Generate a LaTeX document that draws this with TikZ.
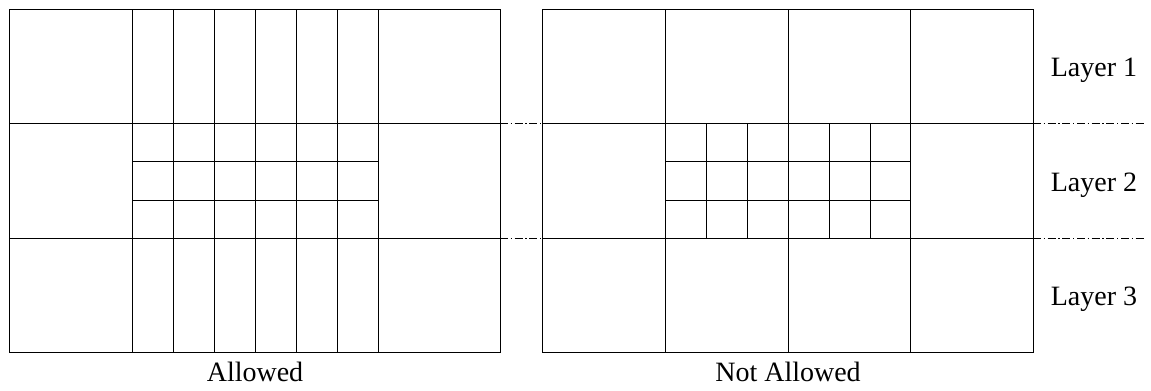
\documentclass[tikz,border=0pt]{standalone}
\usepackage{fontspec}
\setmainfont{Liberation Serif}
\begin{document}
\begin{tikzpicture}[x=0.75pt,y=-0.75pt,
  gridline/.style={line width=0.75pt,black},
  ddline/.style={line width=0.75pt,black,dash pattern=on 6pt off 2pt on 1pt off 2pt},
  lbl/.style={font=\fontsize{21}{25}\selectfont,inner sep=0pt}]
\useasboundingbox (0,0) rectangle (1151,390);
% left grid
\draw[gridline] (9,9) rectangle (500,352);
\draw[gridline] (9,123) -- (500,123) (9,238) -- (500,238);
\draw[gridline] (132,9) -- (132,352) (378,9) -- (378,352);
\foreach \x in {173,214,255,296,337} \draw[gridline] (\x,9) -- (\x,352);
\draw[gridline] (132,161) -- (378,161) (132,200) -- (378,200);
% right grid
\draw[gridline] (542,9) rectangle (1033,352);
\draw[gridline] (542,123) -- (1033,123) (542,238) -- (1033,238);
\draw[gridline] (665,9) -- (665,352) (788,9) -- (788,352) (910,9) -- (910,352);
\foreach \x in {706,747,829,870} \draw[gridline] (\x,123) -- (\x,238);
\draw[gridline] (665,161) -- (910,161) (665,200) -- (910,200);
% dash-dot connectors
\coordinate (a1) at (500,123); \coordinate (b1) at (542,123);
\coordinate (a2) at (500,238); \coordinate (b2) at (542,238);
\coordinate (c1) at (1033,123); \coordinate (d1) at (1146,123);
\coordinate (c2) at (1033,238); \coordinate (d2) at (1146,238);
\draw[ddline] (a1) -- (b1);
\draw[ddline] (a2) -- (b2);
\draw[ddline] (c1) -- (d1);
\draw[ddline] (c2) -- (d2);
% labels
\node[lbl] (l1) at (1094,70) {Layer 1};
\node[lbl] (l2) at (1094,185) {Layer 2};
\node[lbl] (l3) at (1094,299) {Layer 3};
\node[lbl] (al) at (255,372) {Allowed};
\node[lbl] (na) at (788,372) {Not Allowed};
\end{tikzpicture}
\end{document}
